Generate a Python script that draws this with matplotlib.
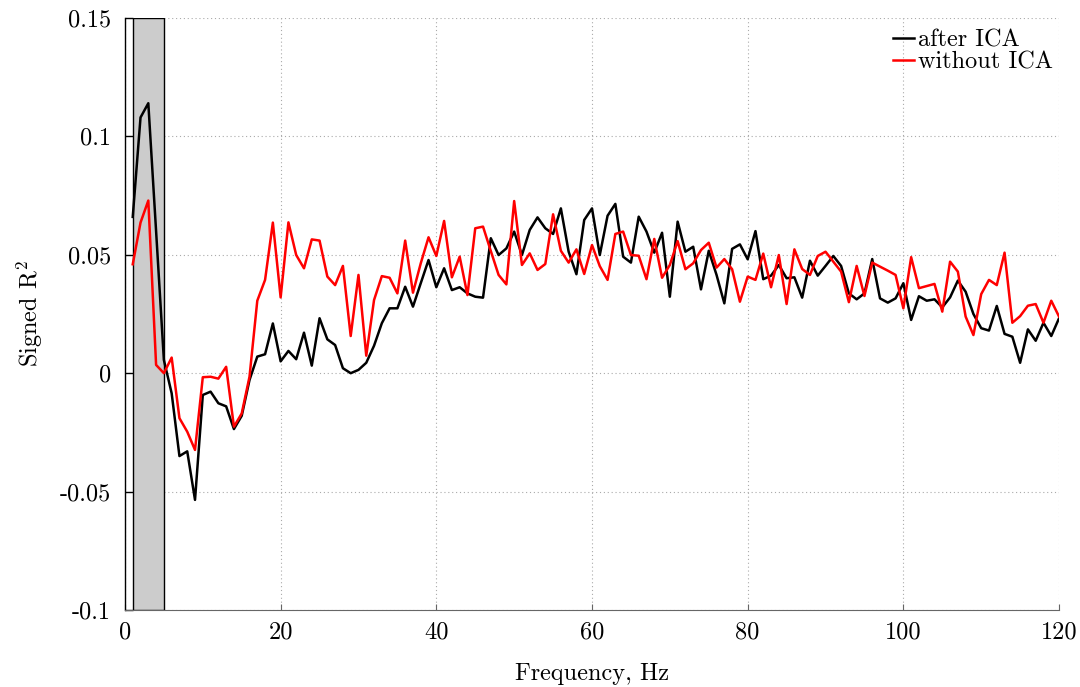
import numpy as np
import matplotlib
matplotlib.use("Agg")
import matplotlib.pyplot as plt

# Frequency axis (Hz) and signed R^2 spectra
freq = np.arange(1, 121)

after_ica = [
    0.066, 0.108, 0.114, 0.060, 0.0056, -0.0085, -0.035, -0.033, -0.0535, -0.0092,
    -0.0078, -0.0127, -0.014, -0.0236, -0.018, -0.0029, 0.007, 0.008, 0.021, 0.005,
    0.0094, 0.0059, 0.0171, 0.0032, 0.0232, 0.0143, 0.0119, 0.0021, 0.0, 0.0014,
    0.0044, 0.0116, 0.0211, 0.0274, 0.0274, 0.0365, 0.0281, 0.038, 0.0478, 0.0363,
    0.0443, 0.0351, 0.0363, 0.0337, 0.0323, 0.0319, 0.057, 0.0499, 0.0527, 0.0598,
    0.0499, 0.0605, 0.0658, 0.0612, 0.0588, 0.0696, 0.0513, 0.0418, 0.0647, 0.0696,
    0.0499, 0.0665, 0.0715, 0.0492, 0.0467, 0.0661, 0.0598, 0.0509, 0.0593, 0.0323,
    0.064, 0.0513, 0.0534, 0.0354, 0.0517, 0.0415, 0.0295, 0.0525, 0.0544, 0.0481,
    0.06, 0.0397, 0.0412, 0.0457, 0.0401, 0.0405, 0.0319, 0.0475, 0.0412, 0.0453,
    0.0495, 0.0453, 0.0337, 0.0312, 0.0337, 0.0482, 0.0316, 0.0298, 0.0316, 0.038,
    0.0225, 0.0325, 0.0306, 0.0312, 0.0278, 0.032, 0.0391, 0.0344, 0.025, 0.019,
    0.018, 0.0284, 0.0166, 0.0154, 0.0044, 0.0185, 0.0137, 0.0213, 0.0157, 0.0232,
]

without_ica = [
    0.046, 0.0636, 0.0729, 0.0035, 0.0, 0.0066, -0.019, -0.0247, -0.0324, -0.0017,
    -0.0015, -0.0023, 0.0027, -0.0226, -0.017, -0.0015, 0.0306, 0.0394, 0.0636, 0.032,
    0.0637, 0.0499, 0.0443, 0.0565, 0.056, 0.0408, 0.0372, 0.0453, 0.0157, 0.0415,
    0.0074, 0.0309, 0.041, 0.0403, 0.0337, 0.056, 0.034, 0.0464, 0.0574, 0.0495,
    0.0643, 0.0405, 0.0492, 0.033, 0.0612, 0.0619, 0.0516, 0.0415, 0.0375, 0.0727,
    0.0457, 0.0506, 0.0436, 0.0461, 0.0671, 0.0517, 0.0467, 0.0523, 0.0419, 0.0541,
    0.0452, 0.0394, 0.0588, 0.0598, 0.0499, 0.0496, 0.0397, 0.0567, 0.0403, 0.0457,
    0.0558, 0.0439, 0.0464, 0.052, 0.0551, 0.0446, 0.0482, 0.0439, 0.0302, 0.0408,
    0.0394, 0.0505, 0.0363, 0.0499, 0.0292, 0.0523, 0.044, 0.0415, 0.0495, 0.0513,
    0.0471, 0.0429, 0.03, 0.0453, 0.0326, 0.0467, 0.045, 0.0433, 0.0415, 0.0274,
    0.049, 0.0359, 0.0368, 0.0377, 0.026, 0.0471, 0.0429, 0.0239, 0.0161, 0.0334,
    0.0394, 0.0372, 0.0509, 0.0213, 0.0241, 0.0285, 0.0292, 0.0213, 0.0306, 0.0239,
]

# Excluded low-frequency band
band = (1, 5)

x_ticks = [0, 20, 40, 60, 80, 100, 120]
x_tick_labels = ["0", "20", "40", "60", "80", "100", "120"]
y_ticks = [-0.1, -0.05, 0, 0.05, 0.1, 0.15]
y_tick_labels = ["-0.1", "-0.05", "0", "0.05", "0.1", "0.15"]

plt.rcParams["font.family"] = ["cmr10", "DejaVu Serif"]
plt.rcParams["mathtext.fontset"] = "cm"
plt.rcParams["axes.unicode_minus"] = False
FS = 17.5

fig = plt.figure(figsize=(10.8, 6.87), dpi=100)
ax = fig.add_axes([0.1157, 0.1121, 0.9806 - 0.1157, 0.9738 - 0.1121])

ax.axvspan(band[0], band[1], facecolor="#cccccc", edgecolor="black",
           linewidth=1.0, zorder=1.5)

ax.plot(freq, after_ica, color="black", linewidth=1.8, label="after ICA", zorder=3)
ax.plot(freq, without_ica, color="red", linewidth=1.8, label="without ICA", zorder=3)

ax.set_xlim(0, 120)
ax.set_ylim(-0.1, 0.15)
ax.set_xticks(x_ticks)
ax.set_xticklabels(x_tick_labels, fontsize=FS)
ax.set_yticks(y_ticks)
ax.set_yticklabels(y_tick_labels, fontsize=FS)

ax.grid(True, color="#aaaaaa", linestyle=(0, (1, 2.5)), linewidth=0.8, zorder=0)
ax.set_axisbelow(True)

for side in ("top", "right"):
    ax.spines[side].set_visible(False)
ax.spines["left"].set_linewidth(1.0)
ax.spines["bottom"].set_linewidth(0.8)
ax.spines["bottom"].set_color("#666666")

ax.tick_params(axis="y", direction="in", length=6, width=1.0, pad=10)
ax.tick_params(axis="x", direction="in", length=4, width=0.8, color="#666666", pad=8)

ax.set_xlabel("Frequency, Hz", fontsize=FS, labelpad=14)
ax.set_ylabel("Signed R$^{2}$", fontsize=FS, labelpad=11)

leg = ax.legend(loc="upper right", bbox_to_anchor=(0.9936, 0.9814),
                frameon=False, fontsize=FS,
                handlelength=0.9, handletextpad=0.15, labelspacing=0.0,
                borderaxespad=0.0, borderpad=0.0)

fig.savefig("out.png", dpi=100)
